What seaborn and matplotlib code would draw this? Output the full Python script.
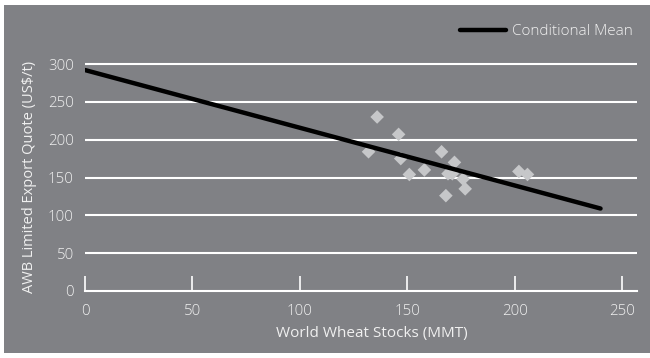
import matplotlib
matplotlib.use("Agg")
import matplotlib.pyplot as plt
from matplotlib.patches import Rectangle
import seaborn as sns
import pandas as pd

# Data
stocks = [136, 146, 132, 147, 151, 158, 166, 172, 169, 171, 168, 176, 177, 202, 206]
quotes = [230, 207, 184, 175, 154, 160, 184, 170, 155, 155, 126, 148, 135, 158, 154]
mean_x = [0, 240]
mean_y = [292, 109]
x_ticks = [0, 50, 100, 150, 200, 250]
y_ticks = [0, 50, 100, 150, 200, 250, 300]

BG = "#808185"
TXT = "#f0f0f0"

sns.set_theme(style="white")
plt.rcParams["font.family"] = ["Open Sans", "DejaVu Sans"]
plt.rcParams["font.weight"] = "light"

fig = plt.figure(figsize=(6.5, 3.58), dpi=100)
fig.patch.set_facecolor("white")
fig.add_artist(Rectangle((4 / 650, 1 - 353 / 358), 1 - 4 / 650, (353 - 5) / 358,
                         transform=fig.transFigure, facecolor=BG, edgecolor="none", zorder=0))

ax = fig.add_axes([85 / 650, 1 - 291 / 358, (637 - 85) / 650, (291 - 62) / 358])
ax.set_facecolor("none")

pts = pd.DataFrame({"stocks": stocks, "quote": quotes})
line = pd.DataFrame({"x": mean_x, "y": mean_y})

sns.scatterplot(data=pts, x="stocks", y="quote", marker="D", s=48, color="#c6c7c9",
                edgecolor="none", ax=ax, zorder=3, legend=False)
sns.lineplot(data=line, x="x", y="y", color="black", linewidth=3.2, ax=ax, zorder=4,
             label="Conditional Mean")

ax.set_xlim(0, (637 - 85) / 2.148)
ax.set_ylim(0, 300 * 229 / 227)
ax.set_xticks(x_ticks)
ax.set_yticks(y_ticks)

for v in y_ticks[1:]:
    ax.axhline(v, color="white", linewidth=1.5, zorder=1)

for s in ["top", "right", "left"]:
    ax.spines[s].set_visible(False)
ax.spines["bottom"].set_color("white")
ax.spines["bottom"].set_linewidth(1.5)
ax.spines["bottom"].set_zorder(2)

ax.tick_params(axis="x", bottom=True, direction="in", length=10.5, width=1.2, color="white",
               pad=9.5, labelsize=10.8, labelcolor=TXT)
ax.tick_params(axis="y", left=False, length=0, pad=8, labelsize=10.8, labelcolor=TXT)
ax.grid(False)

ax.set_xlabel("World Wheat Stocks (MMT)", fontsize=11, color=TXT)
ax.set_ylabel("AWB Limited Export Quote (US$/t)", fontsize=10.5, color=TXT)
ax.xaxis.set_label_coords((372 - 85) / (637 - 85), -(334 - 291) / 229, transform=ax.transAxes)
ax.xaxis.label.set_verticalalignment("center")
ax.yaxis.set_label_coords(-(85 - 30) / 552, (291 - 177) / 229)
ax.yaxis.label.set_verticalalignment("center")

leg = ax.legend(loc="upper right", bbox_to_anchor=(639 / 650, 1 - 18 / 358),
                bbox_transform=fig.transFigure, frameon=False, fontsize=11,
                handlelength=3.0, handletextpad=0.4, borderaxespad=0)
for t in leg.get_texts():
    t.set_color(TXT)

fig.savefig("out.png", dpi=100, facecolor="white")
